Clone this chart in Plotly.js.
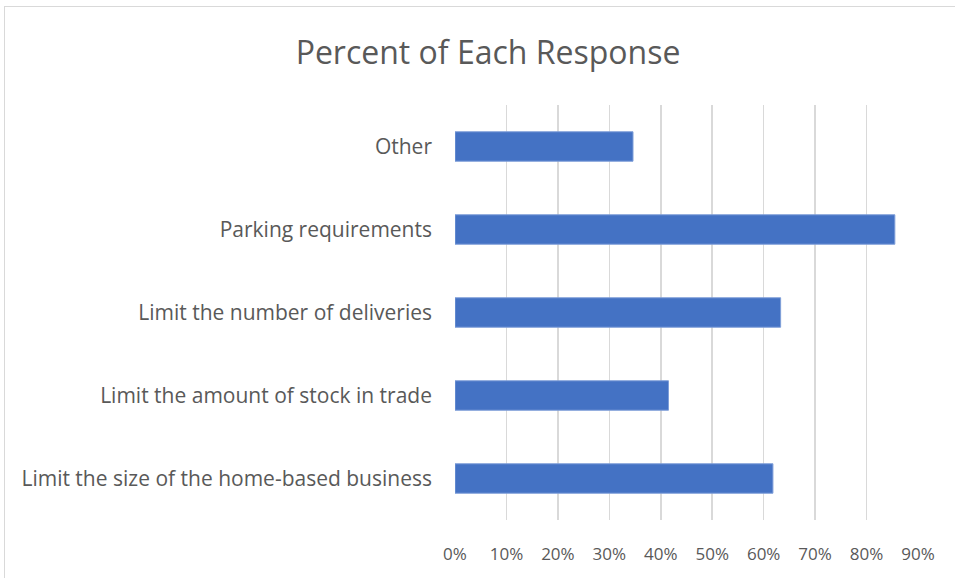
<!DOCTYPE html>
<html>
<head>
<meta charset="utf-8">
<script src="https://cdn.plot.ly/plotly-3.0.1.min.js"></script>
<style>
  html, body { margin: 0; padding: 0; background: #ffffff; }
  #wrap { position: relative; width: 955px; height: 578px; overflow: hidden; }
  #chart { width: 955px; height: 578px; }
  #frame { position: absolute; left: 4px; top: 6px; width: 960px; height: 580px;
           border: 1px solid #d9d9d9; box-sizing: border-box; pointer-events: none; }
</style>
</head>
<body>
<div id="wrap">
  <div id="chart"></div>
  <div id="frame"></div>
</div>
<script>
const categories = [
  "Limit the size of the home-based business",
  "Limit the amount of stock in trade",
  "Limit the number of deliveries",
  "Parking requirements",
  "Other"
];
const percentValues = [0.618, 0.415, 0.633, 0.855, 0.346];
const tickValues = [0, 0.1, 0.2, 0.3, 0.4, 0.5, 0.6, 0.7, 0.8, 0.9];
const tickLabels = ["0%", "10%", "20%", "30%", "40%", "50%", "60%", "70%", "80%", "90%"];

const textColor = "#595959";
const fontFamily = "'Open Sans', 'Liberation Sans', sans-serif";

const data = [{
  type: "bar",
  orientation: "h",
  x: percentValues,
  y: categories,
  marker: { color: "#4472C4", line: { color: "#7f9fd9", width: 1 } },
  hoverinfo: "x+y"
}];

const layout = {
  width: 955,
  height: 578,
  margin: { l: 455, r: 37, t: 105, b: 58, pad: 0 },
  paper_bgcolor: "#ffffff",
  plot_bgcolor: "#ffffff",
  showlegend: false,
  bargap: 0.645,
  font: { family: fontFamily, color: textColor, size: 17 },
  title: {
    text: "Percent of Each Response",
    x: 0.511, xref: "container", xanchor: "center",
    y: 50, yref: "container", yanchor: "middle",
    font: { family: fontFamily, size: 32, color: textColor }
  },
  xaxis: {
    range: [0, 0.9],
    tickvals: tickValues,
    ticktext: tickLabels,
    showgrid: true,
    gridcolor: "#d9d9d9",
    gridwidth: 1.5,
    zeroline: false,
    showline: false,
    ticks: "",
    ticklabelstandoff: 22,
    tickfont: { family: fontFamily, size: 17, color: textColor },
    fixedrange: true
  },
  yaxis: {
    type: "category",
    categoryorder: "array",
    categoryarray: categories,
    showgrid: false,
    zeroline: false,
    showline: false,
    ticks: "",
    ticklabelstandoff: 22,
    tickfont: { family: fontFamily, size: 21, color: textColor },
    fixedrange: true
  }
};

Plotly.newPlot("chart", data, layout, { displayModeBar: false, staticPlot: true });
</script>
</body>
</html>
